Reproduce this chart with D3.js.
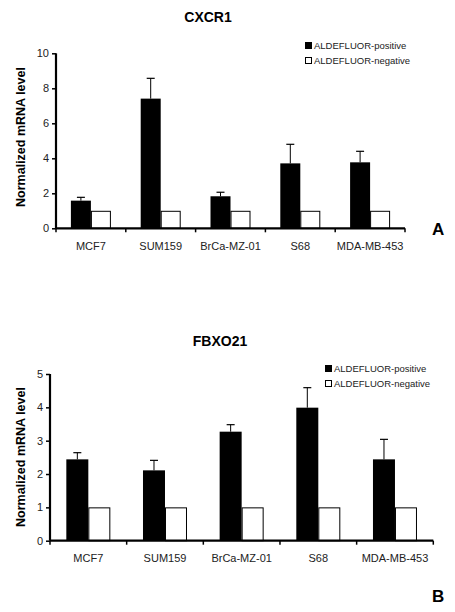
<!DOCTYPE html>
<html><head><meta charset="utf-8">
<script src="https://cdn.jsdelivr.net/npm/d3@7"></script>
<style>body{margin:0;background:#fff}svg{display:block}text{font-family:"Liberation Sans",Arial,sans-serif}</style>
</head><body>
<svg id="c" width="455" height="612"></svg>
<script>
const categories = ["MCF7","SUM159","BrCa-MZ-01","S68","MDA-MB-453"];
const seriesNames = ["ALDEFLUOR-positive","ALDEFLUOR-negative"];
const cxcr1Pos = [1.58, 7.41, 1.83, 3.71, 3.77];
const cxcr1PosErr = [0.19, 1.16, 0.23, 1.09, 0.63];
const cxcr1Neg = [1, 1, 1, 1, 1];
const cxcr1Ticks = [0, 2, 4, 6, 8, 10];
const fbxo21Pos = [2.44, 2.11, 3.27, 3.99, 2.44];
const fbxo21PosErr = [0.20, 0.30, 0.21, 0.60, 0.60];
const fbxo21Neg = [1, 1, 1, 1, 1];
const fbxo21Ticks = [0, 1, 2, 3, 4, 5];

const svg = d3.select("#c");

function panel(o) {
  const g = svg.append("g");
  const x = d3.scaleBand().domain(categories).range([o.x0, o.x1]);
  const y = d3.scaleLinear().domain([0, o.ymax]).range([o.y0, o.y1]);
  const inner = d3.scaleBand().domain(seriesNames).range([0, o.gw]);
  const off = (x.bandwidth() - o.gw) / 2;
  const rows = categories.map((c, i) => ({c, pos: o.pos[i], err: o.err[i], neg: o.neg[i]}));

  // bars
  rows.forEach(r => {
    const bx = x(r.c) + off;
    g.append("rect").attr("x", bx + inner(seriesNames[0])).attr("y", y(r.pos))
      .attr("width", inner.bandwidth()).attr("height", y(0) - y(r.pos)).attr("fill", "#000");
    g.append("rect").attr("x", bx + inner(seriesNames[1]) + 0.5).attr("y", y(r.neg) + 0.5)
      .attr("width", inner.bandwidth() - 1).attr("height", y(0) - y(r.neg) - 0.5)
      .attr("fill", "#fff").attr("stroke", "#000").attr("stroke-width", 1);
    const cx = bx + inner(seriesNames[0]) + inner.bandwidth() / 2;
    g.append("line").attr("x1", cx).attr("x2", cx).attr("y1", y(r.pos)).attr("y2", y(r.pos + r.err))
      .attr("stroke", "#000").attr("stroke-width", 1);
    g.append("line").attr("x1", cx - 4).attr("x2", cx + 4).attr("y1", y(r.pos + r.err)).attr("y2", y(r.pos + r.err))
      .attr("stroke", "#000").attr("stroke-width", 1.2);
  });

  // y axis
  const ya = g.append("g").attr("transform", `translate(${o.x0},0)`)
    .call(d3.axisLeft(y).tickValues(o.ticks).tickSize(4).tickPadding(3).tickFormat(d3.format("d")));
  ya.select(".domain").attr("stroke-width", 2.2).attr("d", `M0,${o.y0}V${o.y1}`);
  ya.selectAll(".tick line").attr("stroke-width", 1.5);
  ya.selectAll("text").attr("font-size", 11).attr("fill", "#222");

  // x axis
  const xa = g.append("g").attr("transform", `translate(0,${o.y0})`)
    .call(d3.axisBottom(x).tickSize(0).tickPadding(14));
  xa.select(".domain").attr("stroke-width", 2.2).attr("d", `M${o.x0},0H${o.x1}`);
  xa.selectAll("text").attr("font-size", 11).attr("fill", "#222");
  const bounds = categories.map(c => x(c)).concat([o.x1]);
  g.selectAll(".xt").data(bounds).join("line").attr("class", "xt")
    .attr("x1", d => d).attr("x2", d => d).attr("y1", o.y0).attr("y2", o.y0 + 4)
    .attr("stroke", "#000").attr("stroke-width", 1.5);

  // y label
  g.append("text").attr("transform", `translate(${o.ylx},${o.yly}) rotate(-90)`)
    .attr("text-anchor", "middle").attr("font-size", 12.5).attr("font-weight", "bold")
    .text("Normalized mRNA level");

  // title
  g.append("text").attr("x", o.tx).attr("y", o.ty).attr("text-anchor", "middle")
    .attr("font-size", 14).attr("font-weight", "bold").text(o.title);

  // legend
  seriesNames.forEach((s, i) => {
    const ly = o.ly + i * 15;
    g.append("rect").attr("x", o.lx + 0.5).attr("y", ly - 6.5).attr("width", 6).attr("height", 6)
      .attr("fill", i === 0 ? "#000" : "#fff").attr("stroke", "#000").attr("stroke-width", 1);
    g.append("text").attr("x", o.lx + 9).attr("y", ly).attr("font-size", 9.5).attr("fill", "#222").text(s);
  });

  // panel letter
  g.append("text").attr("x", 432).attr("y", o.letterY).attr("font-size", 17).attr("font-weight", "bold").text(o.letter);
}

panel({x0: 56, x1: 405, y0: 228.3, y1: 53.3, ymax: 10, gw: 40, pos: cxcr1Pos, err: cxcr1PosErr, neg: cxcr1Neg,
  ticks: cxcr1Ticks, title: "CXCR1", tx: 208, ty: 22, lx: 305, ly: 49, ylx: 25, yly: 137, letter: "A", letterY: 235});
panel({x0: 50, x1: 433.3, y0: 540.7, y1: 374, ymax: 5, gw: 44, pos: fbxo21Pos, err: fbxo21PosErr, neg: fbxo21Neg,
  ticks: fbxo21Ticks, title: "FBXO21", tx: 220, ty: 346, lx: 325, ly: 372, ylx: 25, yly: 457, letter: "B", letterY: 602});
</script>
</body></html>
